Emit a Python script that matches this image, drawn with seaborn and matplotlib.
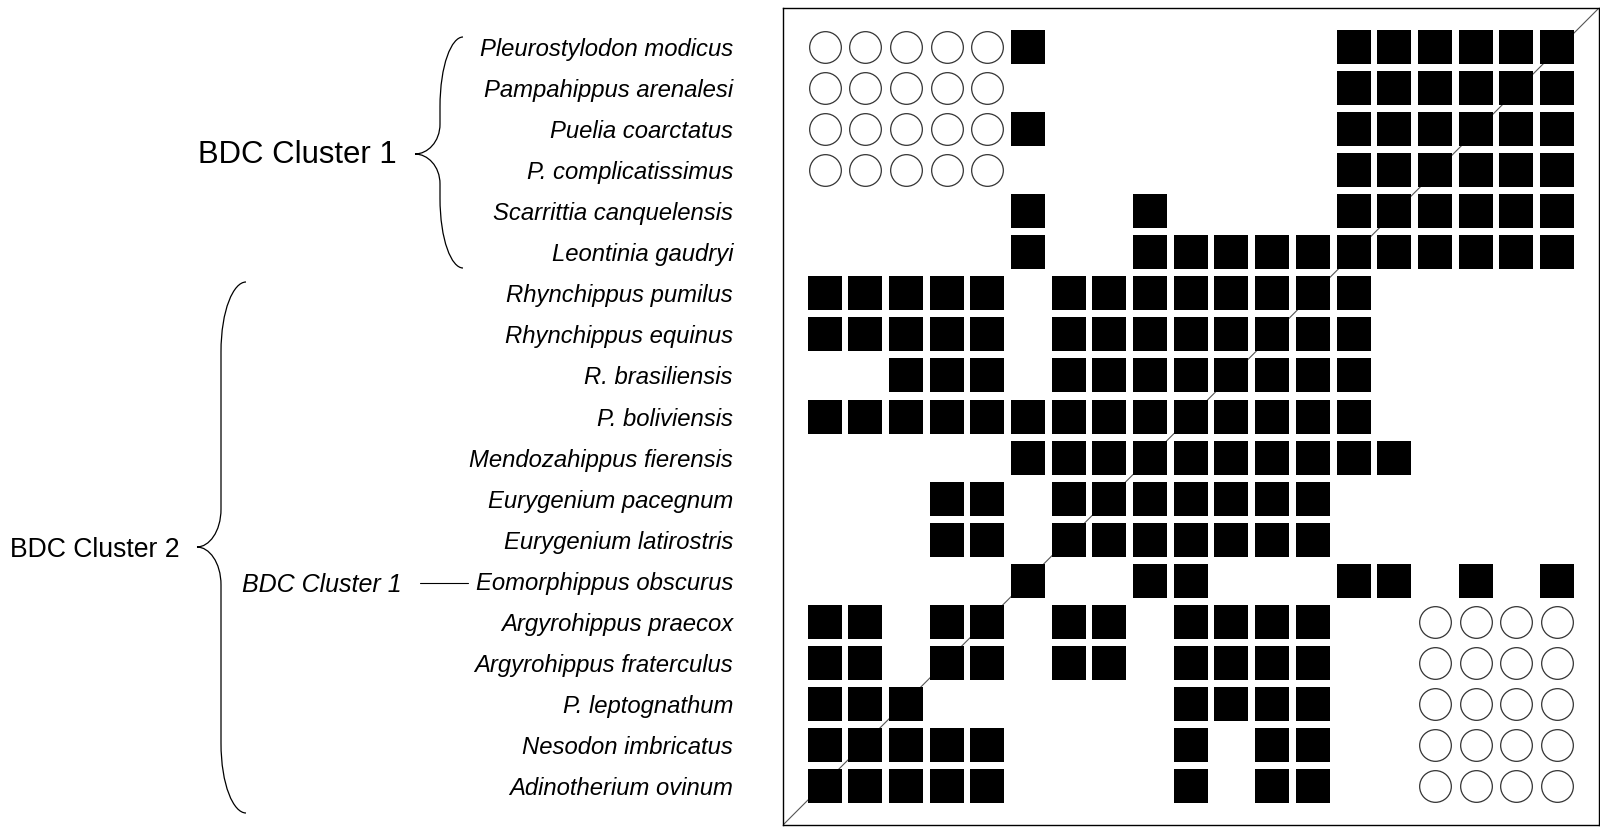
import matplotlib
matplotlib.use("Agg")
import matplotlib.pyplot as plt
from matplotlib.path import Path
from matplotlib.patches import PathPatch
import pandas as pd
import seaborn as sns

especies = [
    "Pleurostylodon modicus", "Pampahippus arenalesi", "Puelia coarctatus",
    "P. complicatissimus", "Scarrittia canquelensis", "Leontinia gaudryi",
    "Rhynchippus pumilus", "Rhynchippus equinus", "R. brasiliensis",
    "P. boliviensis", "Mendozahippus fierensis", "Eurygenium pacegnum",
    "Eurygenium latirostris", "Eomorphippus obscurus", "Argyrohippus praecox",
    "Argyrohippus fraterculus", "P. leptognathum", "Nesodon imbricatus",
    "Adinotherium ovinum",
]

# x = cuadrado negro, o = circulo vacio, . = nada
matriz = [
    "ooooox.......xxxxxx",
    "ooooo........xxxxxx",
    "ooooox.......xxxxxx",
    "ooooo........xxxxxx",
    ".....x..x....xxxxxx",
    ".....x..xxxxxxxxxxx",
    "xxxxx.xxxxxxxx.....",
    "xxxxx.xxxxxxxx.....",
    "..xxx.xxxxxxxx.....",
    "xxxxxxxxxxxxxx.....",
    ".....xxxxxxxxxx....",
    "...xx.xxxxxxx......",
    "...xx.xxxxxxx......",
    ".....x..xx...xx.x.x",
    "xx.xx.xx.xxxx..oooo",
    "xx.xx.xx.xxxx..oooo",
    "xxx......xxxx..oooo",
    "xxxxx....x.xx..oooo",
    "xxxxx....x.xx..oooo",
]

grupo_1 = "BDC Cluster 1"
grupo_2 = "BDC Cluster 2"

sns.set_style("white")
plt.rcParams["font.family"] = ["Liberation Sans", "DejaVu Sans"]
plt.rcParams["text.color"] = "black"
plt.rcParams["ytick.color"] = "black"
plt.rcParams["ytick.labelcolor"] = "black"

celdas = []
for i, fila in enumerate(matriz):
    for j, c in enumerate(fila):
        if c != ".":
            celdas.append({"col": j, "fila": i, "tipo": c})
df = pd.DataFrame(celdas)

fig = plt.figure(figsize=(16, 8.27), dpi=100)
ax = fig.add_axes([783 / 1600, 2 / 827, 816 / 1600, 817 / 827])

# linea diagonal de fondo
ax.plot([0, 1], [0, 1], transform=ax.transAxes, color="#555555", lw=0.8, zorder=1)

sns.scatterplot(data=df[df.tipo == "x"], x="col", y="fila", marker="s", s=635,
                color="black", linewidth=0, ax=ax, zorder=3)
sns.scatterplot(data=df[df.tipo == "o"], x="col", y="fila", marker="o", s=520,
                color="white", edgecolor="#333333", linewidth=0.9, ax=ax, zorder=3)

ax.set_xlim(-1.02, 19.03)
ax.set_ylim(18.95, -0.95)
ax.set_xticks([])
ax.set_yticks(range(len(especies)))
ax.set_yticklabels(especies, fontstyle="italic", fontsize=17.2, color="black")
ax.tick_params(axis="y", length=0, pad=36)
ax.set_xlabel("")
ax.set_ylabel("")
for s in ax.spines.values():
    s.set_visible(True)
    s.set_color("black")
    s.set_linewidth(1.0)

# capa para llaves y etiquetas de grupos (en pixeles)
ov = fig.add_axes([0, 0, 1, 1])
ov.set_xlim(0, 1600)
ov.set_ylim(827, 0)
ov.axis("off")
ov.patch.set_alpha(0)


def llave(xe, xm, xt, y0, yp, y1, d, dp):
    verts = [
        (xe, y0),
        (xe - 0.5 * (xe - xm), y0), (xm, y0 + 0.4 * d), (xm, y0 + d),
        (xm, yp - dp),
        (xm, yp - 0.4 * dp), (xt + 0.5 * (xm - xt), yp), (xt, yp),
        (xt + 0.5 * (xm - xt), yp), (xm, yp + 0.4 * dp), (xm, yp + dp),
        (xm, y1 - d),
        (xm, y1 - 0.4 * d), (xe - 0.5 * (xe - xm), y1), (xe, y1),
    ]
    codes = [Path.MOVETO] + [Path.CURVE4] * 3 + [Path.LINETO] + [Path.CURVE4] * 6 \
        + [Path.LINETO] + [Path.CURVE4] * 3
    ov.add_patch(PathPatch(Path(verts, codes), facecolor="none", edgecolor="black", lw=0.9))


llave(463, 440, 415, 37, 154, 268, 70, 30)
llave(246, 221, 197, 282, 547, 813, 70, 38)

ov.text(198, 163, grupo_1, fontsize=22.4, ha="left", va="baseline", color="black")
ov.text(10, 557, grupo_2, fontsize=19.2, ha="left", va="baseline", color="black")
ov.text(242, 592, grupo_1, fontsize=18, fontstyle="italic", ha="left", va="baseline",
        color="black")
ov.plot([420, 468], [583, 583], color="black", lw=0.8)

fig.savefig("out.png", dpi=100)
